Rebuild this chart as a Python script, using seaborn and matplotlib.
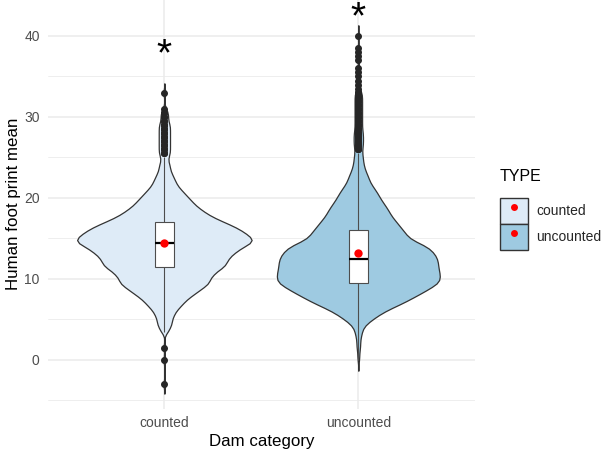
import numpy as np
import pandas as pd
import matplotlib
matplotlib.use("Agg")
import matplotlib.pyplot as plt
import seaborn as sns
from matplotlib.patches import Patch
from matplotlib.lines import Line2D
from matplotlib.ticker import MultipleLocator

# dam categories, their violin fills and violin widths
types = ["counted", "uncounted"]
fills = ["#DEEBF7", "#9ECAE1"]
widths = [0.9, 0.84]

# human footprint mean, binned at 0.5 steps: first bin value + number of dams per bin
counted_start = -3.0
counted_counts = [
    1, 0, 0, 0, 0, 0, 1, 0, 0, 1,
    0, 0, 0, 2, 3, 4, 4, 5, 6, 8,
    10, 12, 15, 18, 21, 24, 24, 26, 28, 32,
    33, 34, 36, 39, 42, 47, 47, 44, 41, 37,
    32, 27, 23, 20, 17, 15, 13, 11, 9, 7,
    6, 5, 4, 3, 3, 2, 2, 3, 3, 3,
    3, 3, 3, 3, 3, 2, 2, 2, 1, 0,
    0, 0, 1,
]
uncounted_start = 0.0
uncounted_counts = [
    1, 1, 1, 2, 2, 2, 3, 4,
    5, 9, 15, 21, 28, 37, 47, 55, 63, 71,
    78, 86, 87, 87, 86, 85, 85, 84, 82, 78,
    74, 63, 54, 51, 48, 44, 41, 37, 34, 32,
    29, 26, 23, 21, 18, 15, 12, 11, 9, 7,
    6, 5, 5, 4, 4, 5, 5, 5, 5, 4,
    4, 4, 4, 4, 4, 4, 4, 4, 4, 1,
    1, 1, 1, 1, 1, 0, 1, 1, 1, 1,
    0, 0, 1,
]

# significance stars above each violin
star_y = [37.6, 42.2]


def expand(start, counts):
    vals = start + 0.5 * np.arange(len(counts))
    return np.repeat(vals, counts)


def main():
    c = expand(counted_start, counted_counts)
    u = expand(uncounted_start, uncounted_counts)
    df = pd.DataFrame({
        "TYPE": ["counted"] * len(c) + ["uncounted"] * len(u),
        "HFP": np.concatenate([c, u]),
    })

    sns.set_theme(style="white")
    plt.rcParams["font.family"] = ["Liberation Sans", "DejaVu Sans"]

    fig = plt.figure(figsize=(6.05, 4.5), dpi=100)
    ax = fig.add_axes([48 / 605, 41.4 / 450, 426.7 / 605, 408.6 / 450])

    # one violin per call so each gets its own width
    for t, f, w in zip(types, fills, widths):
        sns.violinplot(data=df[df["TYPE"] == t], x="TYPE", y="HFP", order=types,
                       color=f, inner=None, cut=3, bw_method=0.08, width=w,
                       linewidth=0.9, linecolor="#333333", saturation=1, ax=ax)
    sns.boxplot(data=df, x="TYPE", y="HFP", order=types, width=0.1,
                color="white", saturation=1, linecolor="#4d4d4d",
                linewidth=0.8, showcaps=False,
                medianprops=dict(color="black", linewidth=1.6, zorder=4),
                flierprops=dict(marker="o", markersize=4,
                                markerfacecolor="#262626",
                                markeredgecolor="#262626", zorder=3),
                ax=ax)
    for p in ax.patches:
        p.set_facecolor("white")
        p.set_zorder(3)
    sns.pointplot(data=df, x="TYPE", y="HFP", order=types, estimator="mean",
                  errorbar=None, color="red", linestyle="none", marker="o",
                  markersize=6, markeredgewidth=0, zorder=6, ax=ax)

    for i, y in enumerate(star_y):
        ax.text(i, y, "*", ha="center", va="center", fontsize=28, color="black")

    ax.set_xlim(-0.6, 1.6)
    ax.set_ylim(-6.0, 44.44)
    ax.set_yticks([0, 10, 20, 30, 40])
    ax.yaxis.set_minor_locator(MultipleLocator(5))
    ax.grid(which="major", color="#EBEBEB", linewidth=1.1, zorder=0)
    ax.grid(which="minor", axis="y", color="#EBEBEB", linewidth=0.6, zorder=0)
    ax.set_axisbelow(True)
    for s in ax.spines.values():
        s.set_visible(False)
    ax.tick_params(axis="both", which="both", length=0, labelsize=10,
                   labelcolor="#4D4D4D")
    ax.tick_params(axis="y", pad=6)
    ax.tick_params(axis="x", pad=5)
    ax.set_xlabel("Dam category", fontsize=12.2, color="black", labelpad=3)
    ax.set_ylabel("Human foot print mean", fontsize=12.2, color="black", labelpad=2)

    # legend: title as its own text, keys as fill box + red mean dot
    fig.text(500 / 605, 1 - 176 / 450, "TYPE", ha="left", va="center",
             fontsize=11.5, color="black")
    handles = [(Patch(facecolor=f, edgecolor="#333333", linewidth=1.0),
                Line2D([], [], marker="o", color="red", linestyle="none",
                       markersize=5, markeredgewidth=0)) for f in fills]
    fig.legend(handles, types, loc="upper left",
               bbox_to_anchor=(500 / 605, 1 - 198 / 450), frameon=False,
               fontsize=10, handlelength=2.05, handleheight=2.5,
               labelspacing=0, handletextpad=0.55, borderpad=0,
               borderaxespad=0)

    fig.savefig("out.png", dpi=100)


if __name__ == "__main__":
    main()
